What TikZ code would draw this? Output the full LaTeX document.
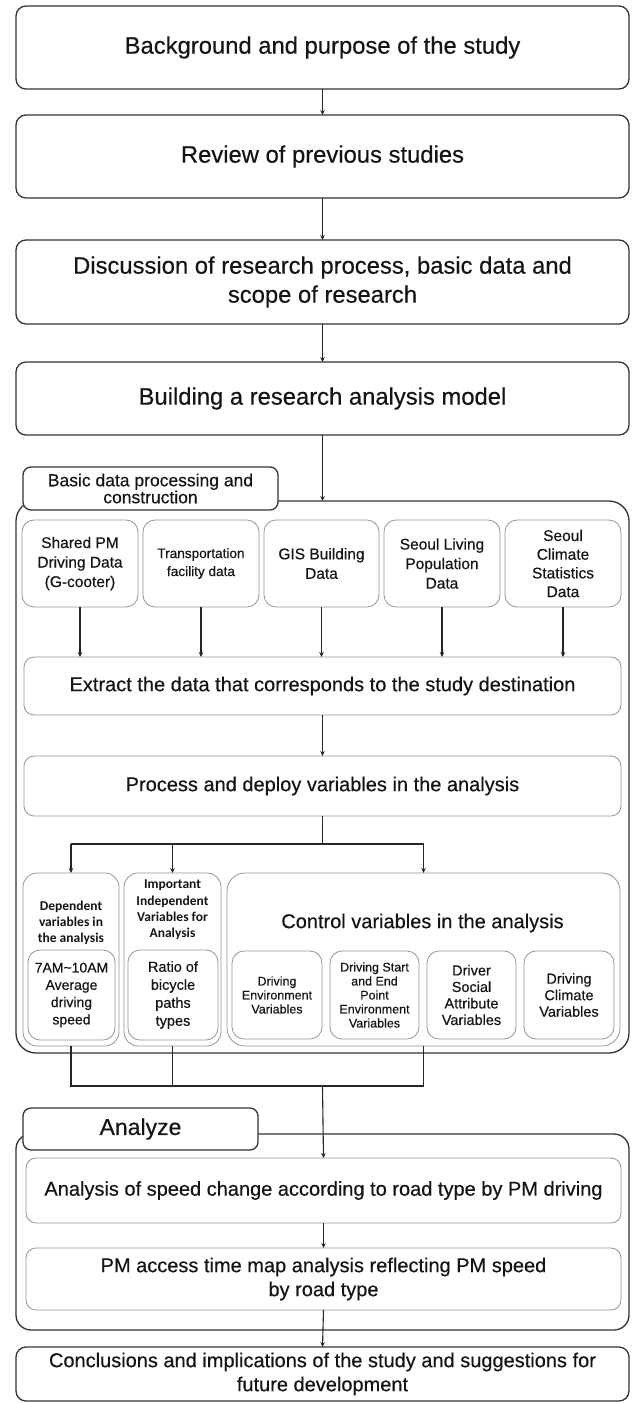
\documentclass[tikz,border=0pt]{standalone}
\usepackage{fontspec}
\setmainfont{Liberation Sans}[FakeBold=0.35]
\newfontfamily\carl{Carlito}
\usetikzlibrary{arrows.meta}
\newcommand\fsMain{\fontsize{23.8}{29}\selectfont}
\newcommand\fsMid{\fontsize{20}{24}\selectfont}
\begin{document}
\begin{tikzpicture}[x=1pt,y=-1pt,
  every node/.style={inner sep=0pt, outer sep=0pt, align=center, text=black!92},
  mainbox/.style={draw=black!80, line width=1.3pt, rounded corners=10pt, fill=white},
  grpbox/.style={draw=black!80, line width=1.3pt, rounded corners=20pt},
  tabbox/.style={draw=black!80, line width=1.3pt, rounded corners=8pt, fill=white},
  litebox/.style={draw=black!42, line width=0.8pt, rounded corners=12pt, fill=white},
  subbox/.style={draw=black!42, line width=0.8pt, rounded corners=14pt},
  arr/.style={draw=black!85, line width=1.1pt, -{Stealth[length=5pt,width=4.5pt]}},
  ln/.style={draw=black!85, line width=1.1pt},
  hdr/.style={font=\carl\bfseries\fontsize{13.5}{16.3}\selectfont},
]
\useasboundingbox (0,0) rectangle (632,1403);

% top sequence
\node[mainbox, minimum width=613, minimum height=83, font=\fsMain] (b1) at (322.5,47.5) {Background and purpose of the study};
\node[mainbox, minimum width=613, minimum height=83, font=\fsMain] (b2) at (322.5,156.5) {Review of previous studies};
\node[mainbox, minimum width=613, minimum height=84, font=\fsMain] (b3) at (322.5,282) {Discussion of research process, basic data and\\scope of research};
\node[mainbox, minimum width=613, minimum height=73, font=\fsMain] (b4) at (322.5,398.5) {Building a research analysis model};

% group 1
\node[grpbox, minimum width=613, minimum height=552] (g1) at (322.5,777) {};
\node[tabbox, minimum width=255, minimum height=43, font=\fontsize{17.5}{17}\selectfont] (t1) at (150.5,488.5) {Basic data processing and\\construction};

\node[litebox, minimum width=116, minimum height=87, font=\fontsize{15.5}{19.5}\selectfont] (d1) at (80,563.5) {Shared PM\\Driving Data\\(G-cooter)};
\node[litebox, minimum width=116, minimum height=87, font=\fontsize{13.6}{18}\selectfont] (d2) at (201,563.5) {Transportation\\facility data};
\node[litebox, minimum width=115, minimum height=87, font=\fontsize{15.5}{19.5}\selectfont] (d3) at (321.5,563.5) {GIS Building\\Data};
\node[litebox, minimum width=116, minimum height=87, font=\fontsize{15.5}{19.5}\selectfont] (d4) at (442,563.5) {Seoul Living\\Population\\Data};
\node[litebox, minimum width=116, minimum height=87, font=\fontsize{15.5}{18.7}\selectfont] (d5) at (563,563.5) {Seoul\\Climate\\Statistics\\Data};

\node[litebox, rounded corners=10pt, minimum width=597, minimum height=58, font=\fsMid] (ext) at (322.5,686) {Extract the data that corresponds to the study destination};
\node[litebox, rounded corners=10pt, minimum width=597, minimum height=60, font=\fsMid] (proc) at (322.5,786) {Process and deploy variables in the analysis};

\foreach \d in {d1,d2,d3,d4,d5} \draw[arr] (\d.south) -- (\d.south |- ext.north);
\draw[arr] (b1.south) -- (b2.north);
\draw[arr] (b2.south) -- (b3.north);
\draw[arr] (b3.south) -- (b4.north);
\draw[arr] (b4.south) -- (g1.north);
\draw[arr] (ext.south) -- (proc.north);

% lower variable boxes
\node[subbox, minimum width=96, minimum height=173] (dep) at (71,959.5) {};
\node[subbox, minimum width=97, minimum height=173] (imp) at (172.5,959.5) {};
\node[subbox, rounded corners=18pt, minimum width=393, minimum height=173] (ctrl) at (423.5,959.5) {};

\node[hdr] (deph) at (71,923) {Dependent\\variables in\\the analysis};
\node[hdr] (imph) at (172.5,910) {Important\\Independent\\Variables for\\Analysis};
\node[font=\fsMid] (ctrlh) at (422.5,923) {Control variables in the analysis};

\node[litebox, minimum width=87, minimum height=90, font=\fontsize{14}{17.3}\selectfont] (depin) at (71.5,995) {7AM\textasciitilde10AM\\Average\\driving\\speed};
\node[litebox, minimum width=90, minimum height=90, font=\fontsize{14.5}{18}\selectfont] (impin) at (173,995) {Ratio of\\bicycle\\paths\\types};

\node[litebox, minimum width=90, minimum height=88, font=\fontsize{12.5}{14}\selectfont] (s1) at (277,995) {Driving\\Environment\\Variables};
\node[litebox, minimum width=89, minimum height=88, font=\fontsize{12.5}{14}\selectfont] (s2) at (374.5,995) {Driving Start\\and End\\Point\\Environment\\Variables};
\node[litebox, minimum width=89, minimum height=88, font=\fontsize{14.5}{16.5}\selectfont] (s3) at (471.5,995) {Driver\\Social\\Attribute\\Variables};
\node[litebox, minimum width=90, minimum height=88, font=\fontsize{14.5}{16.5}\selectfont] (s4) at (569,995) {Driving\\Climate\\Variables};

% branch
\coordinate (br) at (322.5,844);
\draw[ln] (proc.south) -- (br);
\draw[ln] (dep.north |- br) -- (ctrl.north |- br);
\draw[arr] (dep.north |- br) -- (dep.north);
\draw[arr] (imp.north |- br) -- (imp.north);
\draw[arr] (ctrl.north |- br) -- (ctrl.north);

% merge
\coordinate (mg) at (322.5,1086);
\draw[ln] (dep.south) -- (dep.south |- mg) -- (ctrl.south |- mg) -- (ctrl.south);
\draw[ln] (imp.south) -- (imp.south |- mg);

% group 2
\node[grpbox, rounded corners=15pt, minimum width=613, minimum height=196] (g2) at (322.5,1232) {};
\node[tabbox, minimum width=235, minimum height=42, font=\fontsize{23}{27}\selectfont] (t2) at (140.5,1129) {Analyze};
\node[litebox, rounded corners=10pt, minimum width=595, minimum height=65, font=\fsMid] (an1) at (323.5,1190.5) {Analysis of speed change according to road type by PM driving};
\node[litebox, rounded corners=10pt, minimum width=595, minimum height=62, font=\fsMid] (an2) at (323.5,1279) {PM access time map analysis reflecting PM speed\\by road type};
\draw[arr] (mg) -- (an1.north);
\draw[arr] (an1.south) -- (an2.north);

\node[mainbox, minimum width=613, minimum height=54, font=\fsMid] (cc) at (322.5,1374) {Conclusions and implications of the study and suggestions for\\future development};
\draw[arr] (an2.south) -- (cc.north);
\end{tikzpicture}
\end{document}
